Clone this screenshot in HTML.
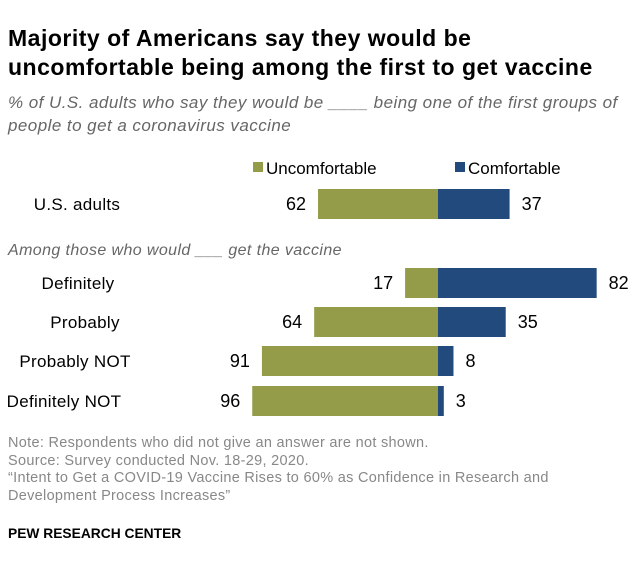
<!DOCTYPE html>
<html><head><meta charset="utf-8"><style>
body{margin:0;background:#fff;width:639px;height:569px;overflow:hidden;font-family:"Liberation Sans",sans-serif}
.t{position:absolute;white-space:nowrap}
</style></head><body>
<div class="t" style="left:8px;top:24px;font-size:23px;letter-spacing:0.5px;font-weight:bold;line-height:29px;color:#000">Majority of Americans say they would be<br>uncomfortable being among the first to get vaccine</div>
<div class="t" style="left:8px;top:91px;font-size:17px;letter-spacing:0.45px;font-style:italic;line-height:23px;color:#666">% of U.S. adults who say they would be ____ being one of the first groups of<br>people to get a coronavirus vaccine</div>
<svg width="639" height="569" style="position:absolute;left:0;top:0">
<g id="g"></g>
</svg>
<div class="t" style="left:8px;top:435px;font-size:14.5px;letter-spacing:0.3px;line-height:17.5px;color:#888">Note: Respondents who did not give an answer are not shown.<br>Source: Survey conducted Nov. 18-29, 2020.<br>“Intent to Get a COVID-19 Vaccine Rises to 60% as Confidence in Research and<br>Development Process Increases”</div>
<div class="t" style="left:8px;top:526px;font-size:13.8px;font-weight:bold;color:#000">PEW RESEARCH CENTER</div>
<script>
const categories=["U.S. adults","Definitely","Probably","Probably NOT","Definitely NOT"];
const uncomfortable=[62,17,64,91,96];
const comfortable=[37,82,35,8,3];
const rowY=[189,268,307,346,386];
const labelX=[77,78,85,75,64];
const cx=438,k=1.935,bh=30;
const ns="http://www.w3.org/2000/svg",g=document.getElementById('g');
function mk(t,a){const e=document.createElementNS(ns,t);for(const n in a)e.setAttribute(n,a[n]);g.appendChild(e);return e;}
function tx(x,y,s,anchor,opt){const e=mk('text',Object.assign({x:x,y:y,'text-anchor':anchor,'font-size':17,fill:'#000','font-family':'Liberation Sans, sans-serif'},opt||{}));e.textContent=s;return e;}
let r=mk('rect',{x:253,y:162,width:10,height:10,fill:'#949c4a'});

let l=tx(266,174,'Uncomfortable','start');

r=mk('rect',{x:455,y:162,width:10,height:10,fill:'#234a7c'});

l=tx(468,174,'Comfortable','start');

l=tx(8,255,'Among those who would ___ get the vaccine','start',{fill:'#666','font-style':'italic','font-size':16,'letter-spacing':0.4});

categories.forEach((c,i)=>{
 const y=rowY[i],u=uncomfortable[i],v=comfortable[i];
 const lab=tx(labelX[i],y+21,c,'middle',{'font-size':17,'letter-spacing':0.3});
 
 const b1=mk('rect',{x:cx-u*k,y:y,width:u*k,height:bh,fill:'#949c4a'});
 
 const b2=mk('rect',{x:cx,y:y,width:v*k,height:bh,fill:'#234a7c'});
 
 const t1=tx(cx-u*k-12,y+21,String(u),'end',{'font-size':18});
 
 const t2=tx(cx+v*k+12,y+21,String(v),'start',{'font-size':18});
 
});
</script>
</body></html>
